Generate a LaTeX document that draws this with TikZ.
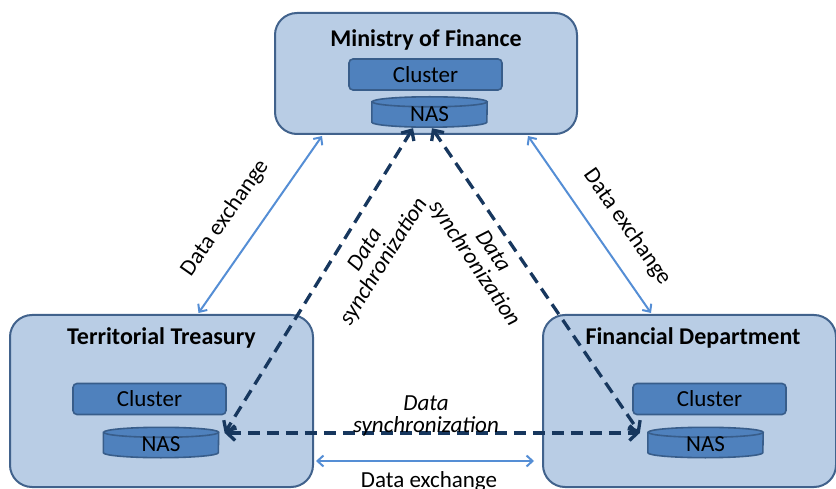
\documentclass[tikz,border=0pt]{standalone}
\usepackage{fontspec}
\setmainfont{Carlito}
\usetikzlibrary{arrows.meta}
\definecolor{boxfill}{HTML}{B9CDE5}
\definecolor{boxline}{HTML}{41628C}
\definecolor{infill}{HTML}{4F81BD}
\definecolor{inline}{HTML}{385D8A}
\definecolor{syncc}{HTML}{17375E}
\definecolor{exc}{HTML}{558ED5}
\newcommand\nascyl[1]{%
  \filldraw[draw=inline,fill=infill,line width=1.6pt]
    ([yshift=-5pt]#1.north west) -- ([yshift=5pt]#1.south west)
    arc[start angle=180,end angle=360,x radius=57.5pt,y radius=5pt]
    -- ([yshift=-5pt]#1.north east)
    arc[start angle=0,end angle=180,x radius=57.5pt,y radius=5pt] -- cycle;
  \draw[draw=inline,line width=1.6pt]
    ([yshift=-5pt]#1.north east)
    arc[start angle=0,end angle=-180,x radius=57.5pt,y radius=5pt];
}
\begin{document}
\begin{tikzpicture}[x=1pt,y=-1pt,
  every node/.style={font=\fontsize{23}{22}\selectfont, text=black},
  org/.style={draw=boxline, fill=boxfill, line width=2pt, rounded corners=22pt, inner sep=0pt},
  title/.style={font=\fontsize{24}{22}\selectfont\bfseries},
  cluster/.style={draw=inline, fill=infill, line width=1.6pt, rounded corners=4pt, minimum width=153pt, minimum height=31pt, inner sep=0pt},
  nasbox/.style={minimum width=115pt, minimum height=30pt, inner sep=0pt},
  ex/.style={draw=exc, line width=2pt, {Straight Barb[length=6pt,width=11pt]}-{Straight Barb[length=6pt,width=11pt]}},
  sync/.style={draw=syncc, line width=3.3pt, dash pattern=on 12pt off 7pt, {Straight Barb[length=8pt,width=15pt]}-{Straight Barb[length=8pt,width=15pt]}},
  lab/.style={align=center, inner sep=0pt},
  slab/.style={align=center, inner sep=0pt, font=\fontsize{23}{22}\selectfont\itshape}
]
\useasboundingbox (0,0) rectangle (836,489);

% organisation boxes
\node[org, minimum width=302pt, minimum height=121pt] (mof) at (426,73.5) {};
\node[org, minimum width=303pt, minimum height=172pt] (tt) at (161.5,401) {};
\node[org, minimum width=293pt, minimum height=172pt] (fd) at (689.5,401) {};

\node[title] (tmof) at (426,40) {Ministry of Finance};
\node[title] (ttt) at (161.5,338) {Territorial Treasury};
\node[title] (tfd) at (693,338) {Financial Department};

% clusters
\node[cluster] (c1) at (425.5,74.5) {Cluster};
\node[cluster] (c2) at (149.5,399) {Cluster};
\node[cluster] (c3) at (709.5,399) {Cluster};

% NAS
\node[nasbox] (n1) at (429.5,112) {};
\node[nasbox] (n2) at (161,442.5) {};
\node[nasbox] (n3) at (705.5,442.5) {};
\nascyl{n1}\nascyl{n2}\nascyl{n3}
\node (l1) at ([yshift=-2pt]n1.center) {NAS};
\node (l2) at ([yshift=-2pt]n2.center) {NAS};
\node (l3) at ([yshift=-2pt]n3.center) {NAS};

% data exchange
\draw[ex] ([xshift=-104pt,yshift=-1pt]mof.south) -- ([xshift=37pt,yshift=1pt]tt.north);
\draw[ex] ([xshift=102pt,yshift=-1pt]mof.south) -- ([xshift=-38.5pt,yshift=1pt]fd.north);
\draw[ex] ([xshift=2pt,yshift=-60pt]tt.east) -- ([xshift=-8pt,yshift=-60pt]fd.west);

% synchronization
\coordinate (s2) at ([shift={(6pt,9.5pt)}]n2.east);
\coordinate (s3) at ([shift={(-8pt,9.5pt)}]n3.west);
\draw[sync] ([xshift=-16.5pt,yshift=-1pt]n1.south) -- (s2);
\draw[sync] ([xshift=2.5pt,yshift=-1pt]n1.south) -- (s3);
\draw[sync] (s2) -- (s3);

% labels
\node[lab, rotate=55] (e1) at (225,218) {Data exchange};
\node[lab, rotate=-55] (e2) at (627,227) {Data exchange};
\node[lab] (e3) at (429,481) {Data exchange};
\node[slab, rotate=58] (y1) at (375,256) {Data\\synchronization};
\node[slab, rotate=-56] (y2) at (483,258) {Data\\synchronization};
\node[slab] (y3) at (426,416) {Data\\synchronization};
\end{tikzpicture}
\end{document}
